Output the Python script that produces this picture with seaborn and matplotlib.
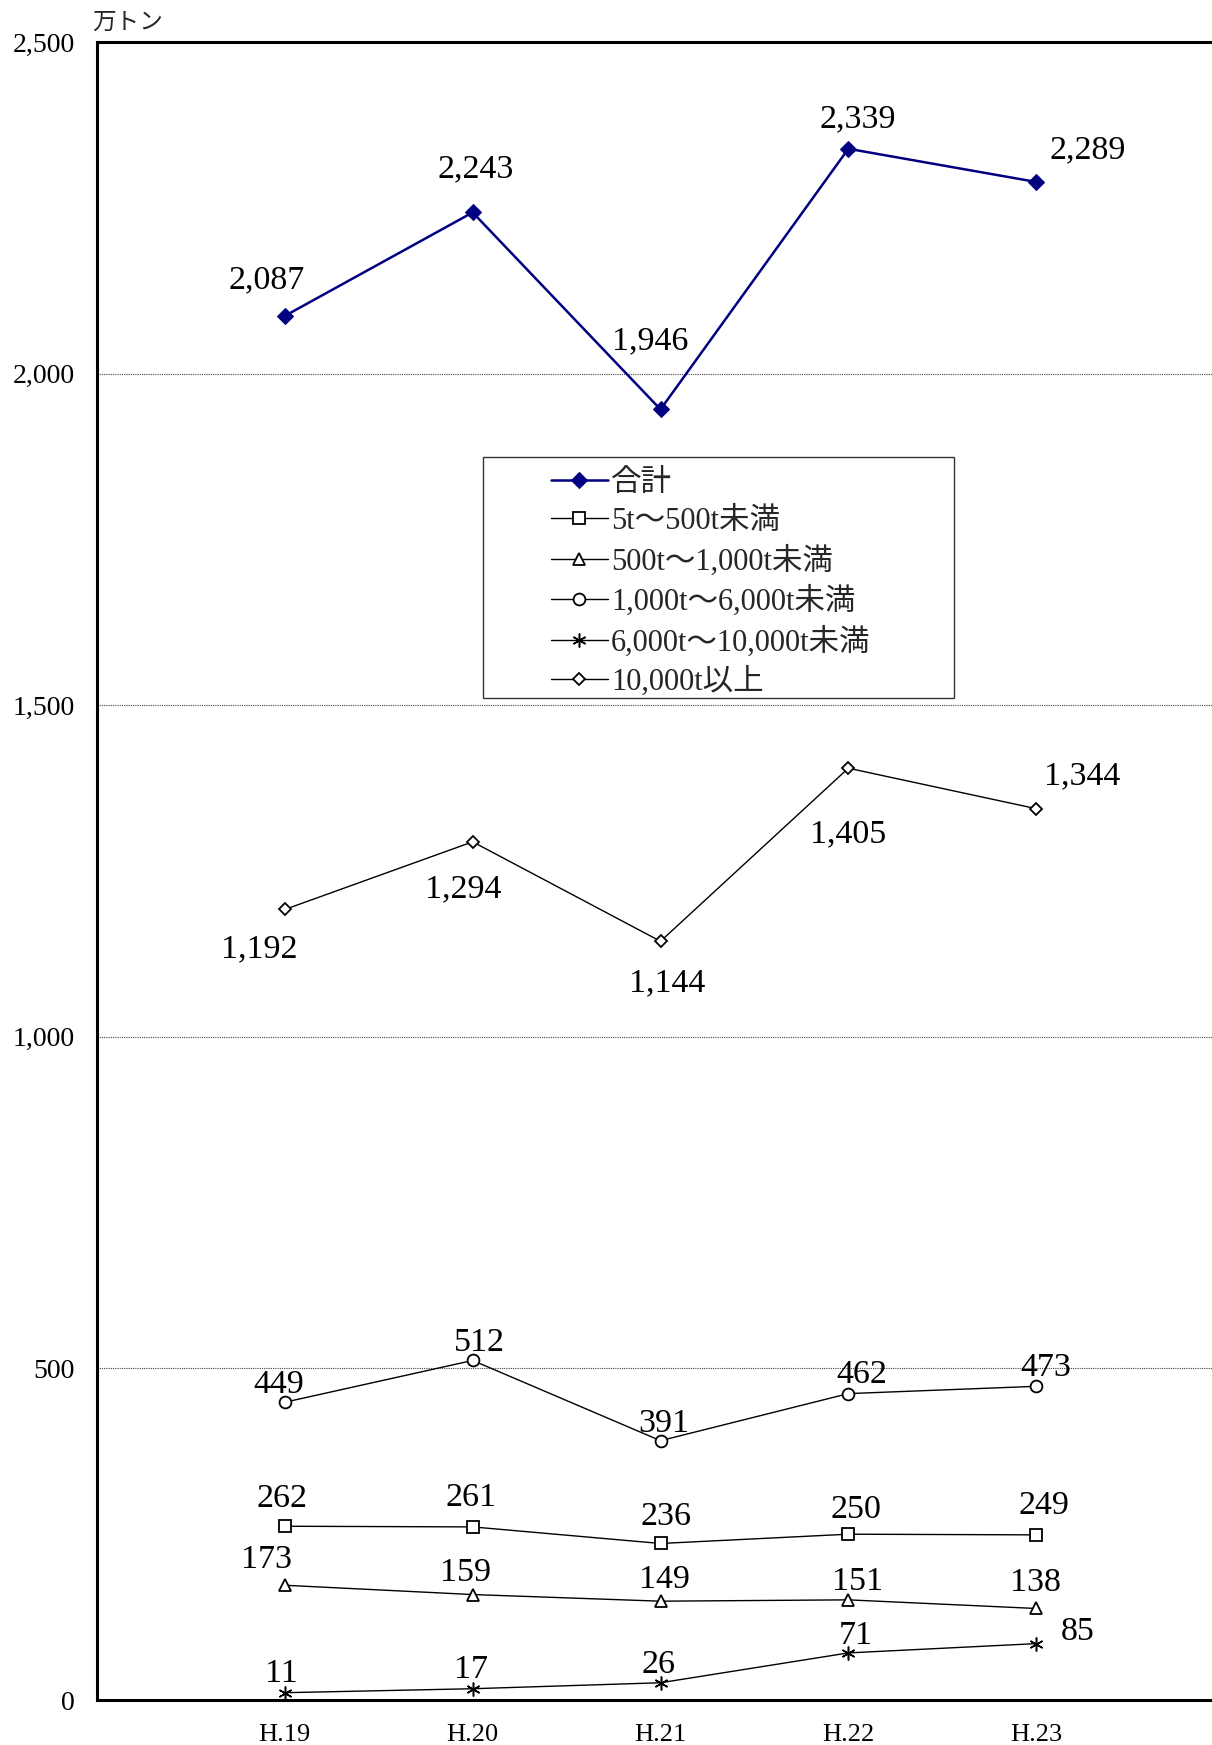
import numpy as np
import pandas as pd
import matplotlib
matplotlib.use("Agg")
import matplotlib.pyplot as plt
from matplotlib.patches import Rectangle
import seaborn as sns

years = ["H.19", "H.20", "H.21", "H.22", "H.23"]
series_names = ["合計", "5t～500t未満", "500t～1,000t未満", "1,000t～6,000t未満",
                "6,000t～10,000t未満", "10,000t以上"]
total = [2087, 2243, 1946, 2339, 2289]
t5_500 = [262, 261, 236, 250, 249]
t500_1000 = [173, 159, 149, 151, 138]
t1000_6000 = [449, 512, 391, 462, 473]
t6000_10000 = [11, 17, 26, 71, 85]
t10000_up = [1192, 1294, 1144, 1405, 1344]
y_ticks = [0, 500, 1000, 1500, 2000, 2500]

values = [total, t5_500, t500_1000, t1000_6000, t6000_10000, t10000_up]

# label offsets in pixels (dx, dy; dy down positive)
label_offsets = [
    [(-18, -36), (3, -43), (-10, -68), (9, -30), (52, -32)],
    [(-3, -27), (-2, -29), (6, -27), (8, -24), (8, -29)],
    [(-18, -26), (-7, -22), (4, -21), (9, -18), (-1, -26)],
    [(-6, -17), (7, -18), (3, -17), (13, -19), (10, -19)],
    [(-3, -19), (-2, -19), (-2, -18), (7, -17), (42, -12)],
    [(-26, 40), (-9, 47), (7, 42), (0, 66), (46, -33)],
]

styles = [
    dict(color="#000080", marker="D", markersize=8, markerfacecolor="#000080",
         markeredgecolor="#000080", linewidth=1.8),
    dict(color="black", marker="s", markersize=8, markerfacecolor="white",
         markeredgecolor="black", markeredgewidth=1.3, linewidth=1.0),
    dict(color="black", marker="^", markersize=8, markerfacecolor="white",
         markeredgecolor="black", markeredgewidth=1.3, linewidth=1.0),
    dict(color="black", marker="o", markersize=8.5, markerfacecolor="white",
         markeredgecolor="black", markeredgewidth=1.3, linewidth=1.0),
    dict(color="black", marker=(6, 2, 0), markersize=10, markerfacecolor="black",
         markeredgecolor="black", markeredgewidth=1.1, linewidth=1.0),
    dict(color="black", marker="D", markersize=6.5, markerfacecolor="white",
         markeredgecolor="black", markeredgewidth=1.3, linewidth=1.0),
]

sns.set_theme(style="white")
plt.rcParams["font.family"] = ["Liberation Serif", "Noto Sans CJK JP"]

W, H = 1212, 1745
fig = plt.figure(figsize=(W / 100, H / 100), dpi=100)
ax = fig.add_axes([97 / W, (H - 1700) / H, (1224 - 97) / W, (1700 - 42) / H])

x = np.arange(len(years))
for name, vals, st in zip(series_names, values, styles):
    df = pd.DataFrame({"x": x, "y": vals})
    sns.lineplot(data=df, x="x", y="y", ax=ax, label=name, **st)

for vals, offs in zip(values, label_offsets):
    for xi, v, (dx, dy) in zip(x, vals, offs):
        ax.annotate(f"{v:,}", (xi, v), xytext=(dx, -dy), textcoords="offset pixels",
                    ha="center", va="center", fontsize=24.5, color="black")

ax.set_xlim(-1, 5)
ax.set_ylim(0, 2500)
ax.set_xticks(x)
ax.set_xticklabels(years, fontsize=19)
ax.set_yticks(y_ticks)
ax.set_yticklabels([f"{t:,}" for t in y_ticks], fontsize=20)
ax.tick_params(axis="x", direction="in", length=5, width=1, pad=17, colors="black")
ax.tick_params(axis="y", length=0, pad=16, colors="black")
ax.set_xlabel("")
ax.set_ylabel("")
ax.yaxis.grid(True, linestyle=(0, (1, 1)), color="#444444", linewidth=0.8)
ax.xaxis.grid(False)
for side in ["left", "top", "bottom"]:
    ax.spines[side].set_linewidth(2.2)
    ax.spines[side].set_color("black")
ax.spines["right"].set_visible(False)

fig.text(128 / W, 1 - 23 / H, "万トン", ha="center", va="center", fontsize=17)

# legend frame drawn separately
fig.patches.append(Rectangle((483 / W, 1 - 698 / H), (954 - 483) / W, (698 - 457) / H,
                             transform=fig.transFigure, fill=False,
                             edgecolor="#333333", linewidth=1.0))
handles = ax.lines[:len(series_names)]
ax.legend(handles=handles, labels=series_names, loc="upper left",
          bbox_to_anchor=(551 / W, 1 - 469 / H),
          bbox_transform=fig.transFigure, frameon=False, fontsize=22,
          handlelength=1.85, handletextpad=0.12, labelspacing=0.3,
          borderaxespad=0, borderpad=0)

fig.savefig("out.png", dpi=100)
